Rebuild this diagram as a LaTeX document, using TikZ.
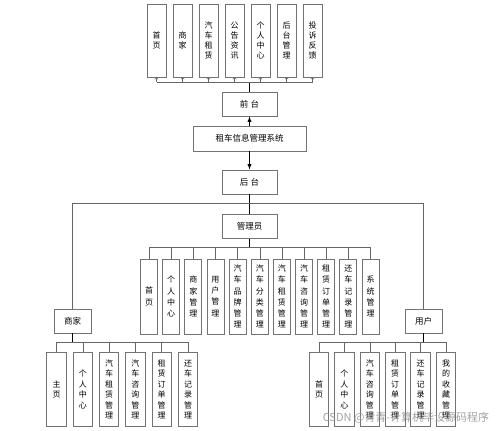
\documentclass[tikz,border=0pt]{standalone}
\usepackage{fontspec}
\setmainfont{Noto Sans CJK SC}
\usetikzlibrary{arrows.meta, calc, positioning}
\begin{document}
\begin{tikzpicture}[>=latex, x=1pt, y=-1pt,
  box/.style={draw=black!55, line width=0.9pt, inner sep=0pt, align=center, font=\fontsize{8}{10.5}\selectfont},
  vbox/.style={box, minimum width=19.5pt, minimum height=74pt},
  hbox/.style={box, minimum width=55pt, minimum height=24pt, font=\fontsize{8.5}{10}\selectfont},
  link/.style={draw=black!60, line width=0.5pt},
  stem/.style={draw=black, line width=0.9pt}]
\useasboundingbox (0,0) rectangle (499,431);
% main boxes
\node[hbox, minimum width=113pt, minimum height=25pt] (sys) at (249.5,138.5) {租车信息管理系统};
\node[hbox] (front) at (249.5,104) {前\hspace{2.5pt}台};
\node[hbox] (back) at (249.5,182) {后\hspace{2.5pt}台};
\node[hbox] (admin) at (249.5,226.5) {管理员};
\node[hbox, minimum width=37pt] (shop) at (72.5,321) {商家};
\node[hbox, minimum width=37pt] (user) at (423.5,321) {用户};
% front pages
\foreach \t [count=\i] in {{首\\页},{商\\家},{汽\\车\\租\\赁},{公\\告\\资\\讯},{个\\人\\中\\心},{后\\台\\管\\理},{投\\诉\\反\\馈}}
  \node[vbox, minimum width=19pt, minimum height=73pt, font=\fontsize{8}{10}\selectfont] (q\i) at ({130.5+26*\i},40.5) {\t};
% admin pages
\foreach \t [count=\i] in {{首\\页},{个\\人\\中\\心},{商\\家\\管\\理},{用\\户\\管\\理},{汽\\车\\品\\牌\\管\\理},{汽\\车\\分\\类\\管\\理},{汽\\车\\租\\赁\\管\\理},{汽\\车\\咨\\询\\管\\理},{租\\赁\\订\\单\\管\\理},{还\\车\\记\\录\\管\\理},{系\\统\\管\\理}}
  \node[vbox, minimum width=17pt, minimum height=75pt, font=\fontsize{8}{11.2}\selectfont] (a\i) at ({126.85+22.15*\i},296.5) {\t};
% shop pages
\foreach \t [count=\i] in {{主\\页},{个\\人\\中\\心},{汽\\车\\租\\赁\\管\\理},{汽\\车\\咨\\询\\管\\理},{租\\赁\\订\\单\\管\\理},{还\\车\\记\\录\\管\\理}}
  \node[vbox] (s\i) at ({30.2+26.3*\i},389.5) {\t};
% user pages
\foreach \t [count=\i] in {{首\\页},{个\\人\\中\\心},{汽\\车\\咨\\询\\管\\理},{租\\赁\\订\\单\\管\\理},{还\\车\\记\\录\\管\\理},{我\\的\\收\\藏\\管\\理}}
  \node[vbox] (u\i) at ({293.6+25.4*\i},389.5) {\t};
% links
\draw[stem, ->] (sys) -- (front);
\draw[stem, ->] (sys) -- (back);
\coordinate (fbus) at (249.5,82);
\draw[stem] (front) -- (fbus);
\draw[link] (q1|-fbus) -- (q7|-fbus);
\foreach \i in {1,...,7}
  \draw[link, -{Straight Barb[length=1.5pt, width=3.5pt]}] (q\i|-fbus) -- (q\i);
\coordinate (bbus) at (249.5,203);
\draw[stem] (back) -- (admin);
\draw[link] (shop) -- (shop|-bbus) -- (user|-bbus) -- (user);
\coordinate (abus) at (249.5,247);
\draw[stem] (admin) -- (abus);
\draw[link] (a1|-abus) -- (a11|-abus);
\foreach \i in {1,...,11} \draw[link] (a\i|-abus) -- (a\i);
\coordinate (sbus) at (72.5,342);
\draw[stem] (shop) -- (sbus);
\draw[link] (s1|-sbus) -- (s6|-sbus);
\foreach \i in {1,...,6} \draw[link] (s\i|-sbus) -- (s\i);
\coordinate (ubus) at (423.5,342);
\draw[stem] (user) -- (ubus);
\draw[link] (u1|-ubus) -- (u6|-ubus);
\foreach \i in {1,...,6} \draw[link] (u\i|-ubus) -- (u\i);
% watermark
\node[text=black!45, opacity=.8, font=\fontsize{11}{11}\selectfont] (wm) at (406,418) {CSDN @青青-计算机毕设源码程序};
\end{tikzpicture}
\end{document}
